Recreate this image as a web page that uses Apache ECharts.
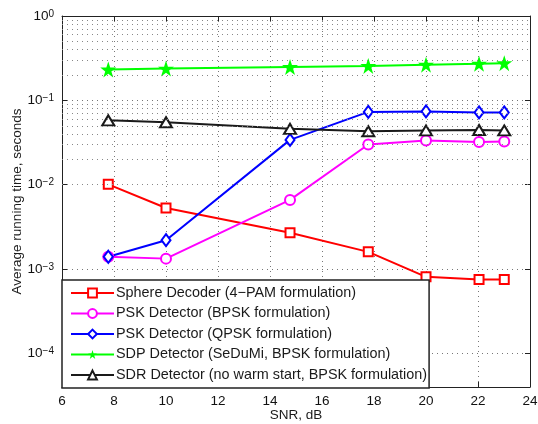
<!DOCTYPE html>
<html>
<head>
<meta charset="utf-8">
<script src="https://cdn.jsdelivr.net/npm/echarts@6/dist/echarts.min.js"></script>
<style>
  html, body { margin: 0; padding: 0; background: #fff; }
  #chart { width: 538px; height: 424px; }
</style>
</head>
<body>
<div id="chart"></div>
<script>
// SNR points (dB)
const snr = [7.78, 10, 14.77, 17.78, 20, 22.04, 23.01];

const sphereDecoder = [0.0101, 0.0053, 0.0027, 0.0016, 0.00081, 0.00075, 0.00075];
const pskBpsk = [0.0014, 0.00133, 0.0066, 0.030, 0.0334, 0.032, 0.0325];
const pskQpsk = [0.0014, 0.0022, 0.034, 0.073, 0.074, 0.072, 0.072];
const sdpSedumi = [0.232, 0.238, 0.249, 0.256, 0.265, 0.272, 0.276];
const sdrNoWarm = [0.058, 0.055, 0.046, 0.043, 0.044, 0.0445, 0.044];

const seriesNames = [
  "Sphere Decoder (4\u2212PAM formulation)",
  "PSK Detector (BPSK formulation)",
  "PSK Detector (QPSK formulation)",
  "SDP Detector (SeDuMi, BPSK formulation)",
  "SDR Detector (no warm start, BPSK formulation)"
];

const yMin = 4e-5, yMax = 1;

const starPath = 'path://M50,0 L61.8,35.3 L99,35.3 L68.9,57.3 L80.4,92.7 L50,70.7 L19.6,92.7 L31.1,57.3 L1,35.3 L38.2,35.3 Z';

// minor grid lines of the log axis (2..9 x 10^k)
const minorGrid = [];
for (let e = -5; e < 0; e++) {
  for (let m = 2; m <= 9; m++) {
    const v = m * Math.pow(10, e);
    if (v > yMin) minorGrid.push({ yAxis: v });
  }
}

const chart = echarts.init(document.getElementById('chart'));

function pts(ys) {
  return snr.map((x, i) => [x, ys[i]]);
}

function mkSeries(name, ys, color, symbol, size) {
  return {
    name: name,
    type: 'line',
    data: pts(ys),
    symbol: symbol,
    symbolSize: size,
    showAllSymbol: true,
    lineStyle: { color: color, width: 2 },
    itemStyle: { color: color, borderColor: color, borderWidth: 2 },
    emphasis: { disabled: true },
    animation: false
  };
}

const series = [
  mkSeries(seriesNames[0], sphereDecoder, '#ff0000', 'emptyRect', 9),
  mkSeries(seriesNames[1], pskBpsk, '#ff00ff', 'emptyCircle', 10),
  mkSeries(seriesNames[2], pskQpsk, '#0000ff', 'emptyDiamond', [9, 12]),
  mkSeries(seriesNames[3], sdpSedumi, '#00ff00', starPath, 16),
  mkSeries(seriesNames[4], sdrNoWarm, '#1a1a1a', 'emptyTriangle', [12, 10])
];
series[3].itemStyle.borderWidth = 0;
series[0].markLine = {
  silent: true,
  symbol: 'none',
  label: { show: false },
  lineStyle: { color: '#888', type: [1, 4], width: 1 },
  data: minorGrid,
  animation: false
};

const font = 'Liberation Sans, Arial, sans-serif';
const gridDots = { color: '#777', type: [1, 4], width: 1 };

chart.setOption({
  animation: false,
  backgroundColor: '#fff',
  grid: { left: 62, right: 8, top: 16, bottom: 37, containLabel: false, outerBoundsMode: 'none' },
  legend: {
    orient: 'vertical',
    left: 62,
    top: 280,
    data: seriesNames,
    backgroundColor: '#fff',
    borderColor: '#222',
    borderWidth: 1.5,
    padding: [6, 2, 6, 8],
    itemWidth: 43,
    itemHeight: 11,
    itemGap: 6.5,
    textStyle: { fontFamily: font, fontSize: 14.4, lineHeight: 14, color: '#1a1a1a', padding: [0, 0, 0, -3] },
    selectedMode: false,
    z: 10
  },
  xAxis: [{
    type: 'value',
    min: 6, max: 24, interval: 2,
    name: 'SNR, dB',
    nameLocation: 'middle',
    nameGap: 21,
    nameMoveOverlap: false,
    nameTextStyle: { fontFamily: font, fontSize: 13.5, color: '#1a1a1a' },
    axisLine: { show: true, onZero: false, lineStyle: { color: '#222', width: 1 } },
    axisTick: { show: true, inside: true, length: 5, lineStyle: { color: '#222' } },
    axisLabel: { fontFamily: font, fontSize: 13.5, color: '#111', margin: 7 },
    splitLine: { show: true, lineStyle: gridDots }
  }, {
    type: 'value',
    position: 'top',
    min: 6, max: 24, interval: 2,
    axisLine: { show: true, lineStyle: { color: '#222', width: 1 } },
    axisTick: { show: true, inside: true, length: 5, lineStyle: { color: '#222' } },
    axisLabel: { show: false },
    splitLine: { show: false }
  }],
  yAxis: [{
    type: 'log',
    logBase: 10,
    min: yMin, max: yMax,
    name: 'Average running time, seconds',
    nameLocation: 'middle',
    nameGap: 38,
    nameMoveOverlap: false,
    nameTextStyle: { fontFamily: font, fontSize: 13.5, color: '#1a1a1a' },
    axisLine: { show: true, lineStyle: { color: '#222', width: 1 } },
    axisTick: { show: true, inside: true, length: 5, lineStyle: { color: '#222' } },
    axisLabel: {
      color: '#111',
      margin: 8,
      formatter: function (v) {
        const e = Math.round(Math.log10(v));
        if (Math.abs(Math.log10(v) - e) > 1e-6) return '';
        const exp = e < 0 ? '\u2212' + (-e) : String(e);
        return '{b|10}{s|' + exp + '}';
      },
      rich: {
        b: { fontFamily: font, fontSize: 13.5, color: '#111', verticalAlign: 'bottom', lineHeight: 14 },
        s: { fontFamily: font, fontSize: 10, color: '#111', verticalAlign: 'top', lineHeight: 12, padding: [0, 0, 10, 0] }
      }
    },
    splitLine: { show: true, lineStyle: gridDots }
  }, {
    type: 'log',
    logBase: 10,
    position: 'right',
    min: yMin, max: yMax,
    axisLine: { show: true, lineStyle: { color: '#222', width: 1 } },
    axisTick: { show: true, inside: true, length: 5, lineStyle: { color: '#222' } },
    axisLabel: { show: false },
    splitLine: { show: false }
  }],
  series: series
});
</script>
</body>
</html>
